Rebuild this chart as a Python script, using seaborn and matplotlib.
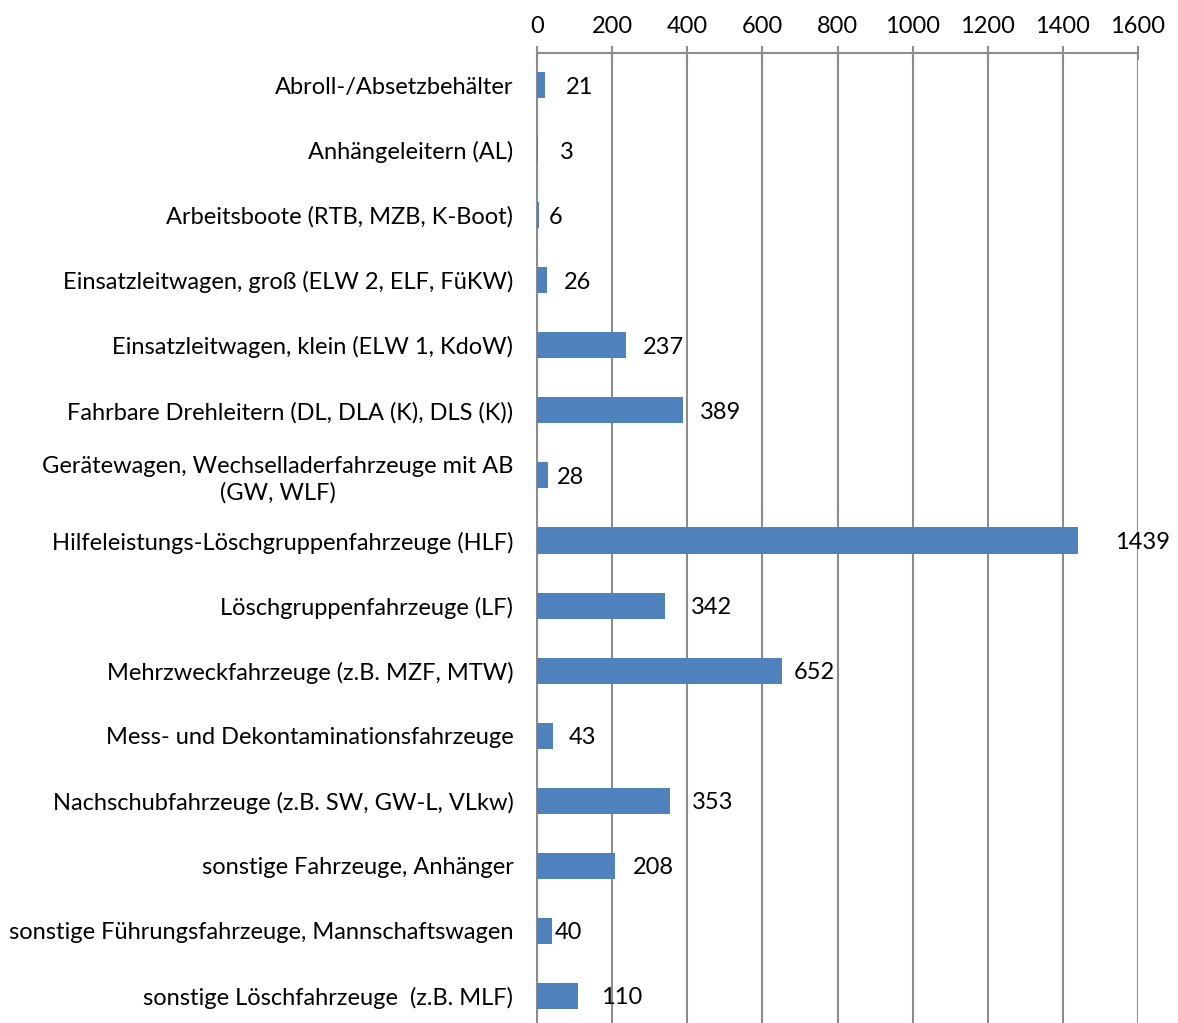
import numpy as np
import pandas as pd
import matplotlib
matplotlib.use("Agg")
import matplotlib.pyplot as plt
import seaborn as sns

categories = [
    "Abroll-/Absetzbehälter",
    "Anhängeleitern (AL)",
    "Arbeitsboote (RTB, MZB, K-Boot)",
    "Einsatzleitwagen, groß (ELW 2, ELF, FüKW)",
    "Einsatzleitwagen, klein (ELW 1, KdoW)",
    "Fahrbare Drehleitern (DL, DLA (K), DLS (K))",
    "Gerätewagen, Wechselladerfahrzeuge mit AB\n(GW, WLF)",
    "Hilfeleistungs-Löschgruppenfahrzeuge (HLF)",
    "Löschgruppenfahrzeuge (LF)",
    "Mehrzweckfahrzeuge (z.B. MZF, MTW)",
    "Mess- und Dekontaminationsfahrzeuge",
    "Nachschubfahrzeuge (z.B. SW, GW-L, VLkw)",
    "sonstige Fahrzeuge, Anhänger",
    "sonstige Führungsfahrzeuge, Mannschaftswagen",
    "sonstige Löschfahrzeuge  (z.B. MLF)",
]
counts = [21, 3, 6, 26, 237, 389, 28, 1439, 342, 652, 43, 353, 208, 40, 110]
x_ticks = [0, 200, 400, 600, 800, 1000, 1200, 1400, 1600]

# gap between bar end and label in pixels (as in the original)
label_gap_px = [21, 22, 9, 17, 17, 17, 9, 37, 25, 12, 16, 22, 18, 3, 23]

df = pd.DataFrame({"Kategorie": categories, "Anzahl": counts})

sns.set_theme(style="white")
plt.rcParams["font.family"] = ["Lato", "DejaVu Sans"]
fs = 17

fig = plt.figure(figsize=(11.78, 10.23), dpi=100)
ax = fig.add_axes([537 / 1178, -5.5 / 1023, (1138 - 537) / 1178, 976 / 1023])

sns.barplot(data=df, x="Anzahl", y="Kategorie", orient="h", color="#4F81BD",
            saturation=1, width=0.4, linewidth=0, ax=ax, zorder=3)

ax.set_xlim(0, 1600)
ax.set_ylim(len(categories) - 0.5, -0.5)
ax.set_xticks(x_ticks)
ax.set_xticklabels([str(t) for t in x_ticks])
ax.xaxis.tick_top()
ax.xaxis.set_label_position("top")
ax.set_xlabel("")
ax.set_ylabel("")

ax.grid(axis="x", color="#8c8c8c", linewidth=1.5, zorder=0)
ax.set_axisbelow(True)

for side in ["right", "bottom"]:
    ax.spines[side].set_visible(False)
ax.spines["top"].set_color("#8c8c8c")
ax.spines["top"].set_linewidth(1.5)
ax.spines["left"].set_color("#8c8c8c")
ax.spines["left"].set_linewidth(1.5)

ax.tick_params(axis="x", which="major", direction="inout", length=10, width=1.5,
               color="#8c8c8c", labelsize=fs, labelcolor="black", pad=6)
ax.tick_params(axis="y", which="major", length=0, labelsize=fs,
               labelcolor="black", pad=17)
ax.set_yticks(np.arange(len(categories) + 1) - 0.5, minor=True)
ax.tick_params(axis="y", which="minor", direction="out", length=7, width=1.5,
               color="#8c8c8c")
for lab in ax.get_yticklabels():
    lab.set_multialignment("center")
    lab.set_linespacing(1.3)

for i, (v, gap) in enumerate(zip(counts, label_gap_px)):
    ax.annotate(str(v), xy=(v, i), xytext=(gap * 0.72, 0),
                textcoords="offset points", ha="left", va="center_baseline",
                fontsize=fs, color="black", zorder=4)

fig.savefig("out.png", dpi=100)
